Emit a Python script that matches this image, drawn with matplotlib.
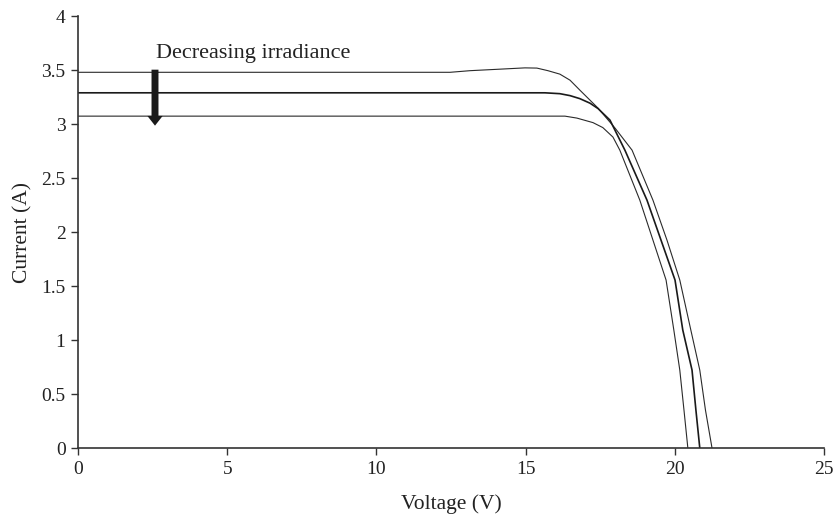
import numpy as np
import matplotlib.pyplot as plt

plt.rcParams['font.family'] = ['Liberation Serif', 'DejaVu Serif']

# I-V curves (voltage V, current A)
v_high = [0, 12.47, 13.14, 14.14, 14.98, 15.38, 15.75, 16.15, 16.49, 16.82, 17.16, 17.43,
          18.0, 18.57, 19.27, 19.74, 20.17, 20.54, 20.84, 21.03, 21.25]
i_high = [3.48, 3.48, 3.495, 3.509, 3.521, 3.519, 3.495, 3.463, 3.407, 3.315, 3.222, 3.148,
          2.963, 2.759, 2.296, 1.926, 1.556, 1.093, 0.722, 0.352, 0.0]

v_mid = [0, 15.65, 16.15, 16.49, 16.82, 17.16, 17.43, 17.83, 18.33, 19.07, 19.54, 20.01,
         20.27, 20.58, 20.71, 20.84]
i_mid = [3.29, 3.29, 3.282, 3.264, 3.236, 3.194, 3.144, 3.037, 2.759, 2.296, 1.926, 1.556,
         1.093, 0.722, 0.352, 0.0]

v_low = [0, 16.32, 16.72, 17.26, 17.59, 17.93, 18.16, 18.83, 19.27, 19.71, 19.97, 20.17,
         20.31, 20.44]
i_low = [3.074, 3.074, 3.056, 3.014, 2.968, 2.880, 2.759, 2.296, 1.926, 1.556, 1.093, 0.722,
         0.352, 0.0]

x_ticks = [0, 5, 10, 15, 20, 25]
y_ticks = [0, 0.5, 1, 1.5, 2, 2.5, 3, 3.5, 4]
y_ticklabels = ['0', '0.5', '1', '1.5', '2', '2.5', '3', '3.5', '4']

fig = plt.figure(figsize=(8.39, 5.21), dpi=100)
ax = fig.add_axes([0.093, 0.140, 0.889, 0.829])

ax.plot(v_high, i_high, color='#2a2a2a', lw=0.8)
ax.plot(v_mid, i_mid, color='#1a1a1a', lw=1.2)
ax.plot(v_low, i_low, color='#2a2a2a', lw=0.8)

# arrow + label
ax.annotate('', xy=(2.58, 2.96), xytext=(2.58, 3.53),
            arrowprops=dict(arrowstyle='simple,head_width=1.1,head_length=0.7,tail_width=0.5',
                            mutation_scale=10, color='#1a1a1a', lw=0))
ax.text(2.62, 3.65, 'Decreasing irradiance', fontsize=16, color='#222222',
        ha='left', va='center')

ax.set_xlim(0, 25)
ax.set_ylim(0, 4)
ax.set_xticks(x_ticks)
ax.set_yticks(y_ticks)
ax.set_yticklabels(y_ticklabels)
ax.tick_params(direction='out', length=5, width=1, colors='#333333', labelsize=14,
               labelcolor='#222222')
ax.tick_params(axis='y', pad=4)
ax.tick_params(axis='x', pad=4)

for s in ['top', 'right']:
    ax.spines[s].set_visible(False)
for s in ['left', 'bottom']:
    ax.spines[s].set_color('#333333')
    ax.spines[s].set_linewidth(1.2)

ax.set_xlabel('Voltage (V)', fontsize=15.5, color='#222222', labelpad=12)
ax.set_ylabel('Current (A)', fontsize=15.5, color='#222222', labelpad=6)

fig.savefig('out.png', dpi=100)
